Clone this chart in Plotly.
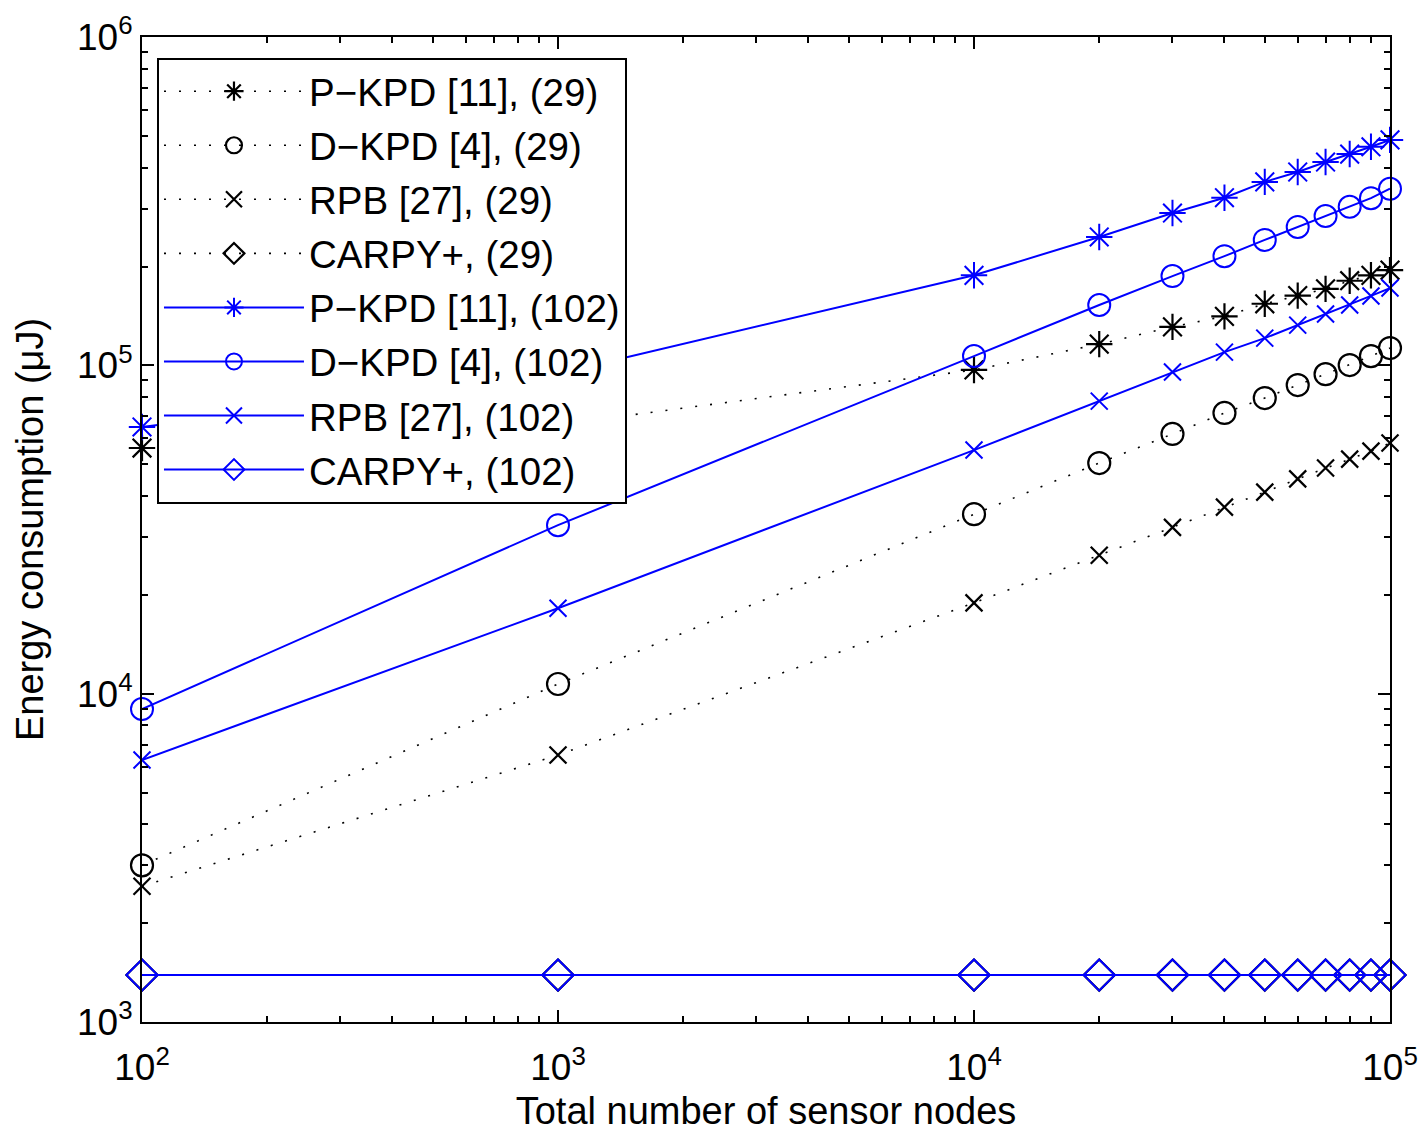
import plotly.graph_objects as go

x_full = [100, 1000, 10000, 20000, 30000, 40000, 50000, 60000, 70000, 80000, 90000, 100000]

pkpd_29 = [56000, 66000, 96800, 116000, 131000, 141000, 154000, 163000, 171000, 181000, 188000, 195000]
dkpd_29 = [3000, 10700, 35200, 50400, 61800, 71600, 79500, 87100, 94000, 100200, 106700, 112900]
rpb_29 = [2590, 6500, 18900, 26400, 32100, 37000, 41100, 45100, 48700, 51800, 54800, 58000]
carpy_29 = [1390] * 12

pkpd_102 = [64900, 94500, 188000, 246000, 291000, 324000, 362000, 388000, 416000, 440000, 463000, 486000]
dkpd_102 = [8980, 32600, 106700, 152700, 187000, 215000, 241000, 264000, 285000, 304000, 323000, 345000]
rpb_102 = [6280, 18200, 55200, 77800, 95400, 109700, 121000, 132600, 143300, 152700, 162700, 171900]
carpy_102 = [1390] * 12

names = ["P\u2212KPD [11], (29)", "D\u2212KPD [4], (29)", "RPB [27], (29)", "CARPY+, (29)",
         "P\u2212KPD [11], (102)", "D\u2212KPD [4], (102)", "RPB [27], (102)", "CARPY+, (102)"]

xt = [100, 1000, 10000, 100000]
xt_text = ["10<sup>2</sup>", "10<sup>3</sup>", "10<sup>4</sup>", "10<sup>5</sup>"]
yt = [1000, 10000, 100000, 1000000]
yt_text = ["10<sup>3</sup>", "10<sup>4</sup>", "10<sup>5</sup>", "10<sup>6</sup>"]

FONT = "Liberation Sans, Arial, Helvetica, sans-serif"

x_minor = [m * 10 ** e for e in range(2, 5) for m in range(2, 10)]
y_minor = [m * 10 ** e for e in range(3, 6) for m in range(2, 10)]

fig = go.Figure()

black_series = [pkpd_29, dkpd_29, rpb_29, carpy_29]
blue_series = [pkpd_102, dkpd_102, rpb_102, carpy_102]
symbols = ["asterisk-open", "circle-open", "x-thin-open", "diamond-open"]
sizes = [22, 22, 17, 24]

for i, (ys, sym, sz) in enumerate(zip(black_series, symbols, sizes)):
    fig.add_trace(go.Scatter(
        x=x_full, y=ys, name=names[i], mode="lines+markers",
        line=dict(color="black", width=1.6, dash="2px,13px"),
        marker=dict(symbol=sym, size=sz, color="black", line=dict(color="black", width=2.2)),
        legendgroup=f"g{i}", cliponaxis=False,
    ))
for i, (ys, sym, sz) in enumerate(zip(blue_series, symbols, sizes)):
    fig.add_trace(go.Scatter(
        x=x_full, y=ys, name=names[4 + i], mode="lines+markers",
        line=dict(color="#0000ff", width=2),
        marker=dict(symbol=sym, size=sz, color="#0000ff", line=dict(color="#0000ff", width=2)),
        legendgroup=f"g{4 + i}", cliponaxis=False,
    ))

fig.update_layout(
    width=1425, height=1132,
    margin=dict(l=142, r=35, t=37, b=110, autoexpand=False),
    paper_bgcolor="white", plot_bgcolor="white",
    font=dict(family=FONT, color="black", size=32),
    showlegend=True,
    legend=dict(
        x=0.012, y=0.979, xanchor="left", yanchor="top",
        bgcolor="white", bordercolor="black", borderwidth=2,
        font=dict(size=38.5, family=FONT, color="black"),
        tracegroupgap=1, itemwidth=140,
    ),
    xaxis=dict(
        type="log", range=[2, 5], automargin=False,
        tickvals=xt, ticktext=xt_text,
        ticks="inside", ticklen=12, tickwidth=1.5, tickcolor="black",
        showline=True, linecolor="black", linewidth=2, mirror="ticks",
        showgrid=False, zeroline=False,
        minor=dict(tickvals=x_minor, ticks="inside", ticklen=6, tickcolor="black", tickwidth=1.5, showgrid=False),
        tickfont=dict(size=37, family=FONT), ticklabelstandoff=12,
        title=dict(text="Total number of sensor nodes", font=dict(size=38, family=FONT), standoff=10),
    ),
    yaxis=dict(
        type="log", range=[3, 6], automargin=False,
        tickvals=yt, ticktext=yt_text,
        ticks="inside", ticklen=12, tickwidth=1.5, tickcolor="black",
        showline=True, linecolor="black", linewidth=2, mirror="ticks",
        showgrid=False, zeroline=False,
        minor=dict(tickvals=y_minor, ticks="inside", ticklen=6, tickcolor="black", tickwidth=1.5, showgrid=False),
        tickfont=dict(size=37, family=FONT),
        title=dict(text="Energy consumption (\u03bcJ)", font=dict(size=38, family=FONT), standoff=22),
    ),
)

fig.write_html("out.html", config={"displayModeBar": False},
               post_script="document.body.style.margin='0';")
